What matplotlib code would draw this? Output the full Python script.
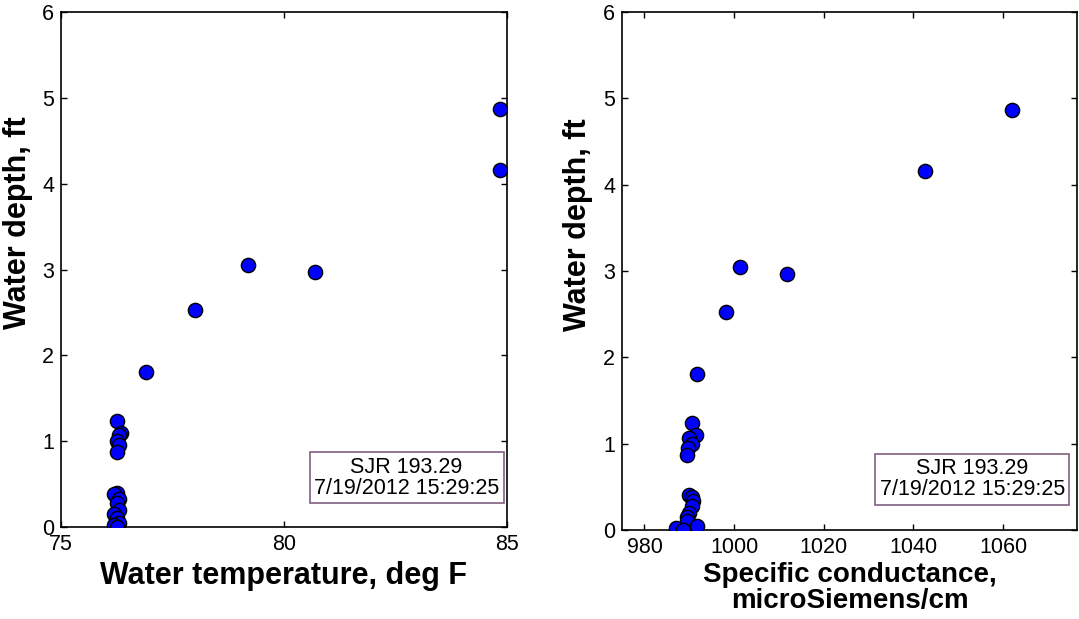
import numpy as np
import matplotlib
matplotlib.use("Agg")
import matplotlib.pyplot as plt

plt.rcParams["font.family"] = ["Liberation Sans", "DejaVu Sans"]

# Profile SJR 193.29, 7/19/2012 15:29:25
depth = [4.87, 4.16, 3.05, 2.97, 2.53, 1.81,
         1.24, 1.10, 1.07, 1.00, 0.95, 0.87,
         0.40, 0.38, 0.33, 0.28, 0.20, 0.15, 0.10, 0.05, 0.02, 0.00]
temp_f = [84.85, 84.85, 79.2, 80.7, 78.0, 76.9,
          76.25, 76.35, 76.30, 76.25, 76.30, 76.25,
          76.25, 76.20, 76.30, 76.25, 76.30, 76.20, 76.25, 76.30, 76.20, 76.25]
spcond = [1062.0, 1042.5, 1001.4, 1011.9, 998.1, 991.8,
          990.5, 991.4, 990.0, 990.5, 989.8, 989.6,
          990.0, 990.5, 990.8, 990.5, 990.0, 989.5, 989.5, 991.8, 987.1, 988.5]

box_text = "SJR 193.29\n7/19/2012 15:29:25"

fig = plt.figure(figsize=(10.79, 6.19), dpi=100)
ax1 = fig.add_axes([0.0565, 0.1486, 0.4133, 0.832])
ax2 = fig.add_axes([0.5765, 0.1438, 0.4217, 0.8368])

def style_axes(ax):
    ax.tick_params(direction="in", length=4, width=1, labelsize=15.5,
                   top=True, right=True, pad=5)
    for s in ax.spines.values():
        s.set_linewidth(1.2)
    ax.set_ylim(0, 6)
    ax.set_yticks(range(0, 7))
    ax.set_ylabel("Water depth, ft", fontsize=22, fontweight="bold")

# temperature panel
ax1.scatter(temp_f, depth, s=105, c="#0000ff", edgecolors="black", linewidths=1, zorder=3)
ax1.set_xlim(75, 85)
ax1.set_xticks([75, 80, 85])
ax1.set_xlabel("Water temperature, deg F", fontsize=22, fontweight="bold", labelpad=4)
style_axes(ax1)
ax1.yaxis.set_label_coords(-0.063, 0.59)
ax1.text(0.775, 0.096, box_text, transform=ax1.transAxes, ha="center", va="center",
         fontsize=15.5, linespacing=1.0,
         bbox=dict(boxstyle="square,pad=0.2", fc="white", ec="#806080", lw=1.2))

# conductance panel
ax2.scatter(spcond, depth, s=105, c="#0000ff", edgecolors="black", linewidths=1, zorder=3)
ax2.set_xlim(975, 1076.5)
ax2.set_xticks([980, 1000, 1020, 1040, 1060])
ax2.set_xlabel("Specific conductance,\nmicroSiemens/cm", fontsize=20, fontweight="bold",
               labelpad=3, linespacing=1.0)
style_axes(ax2)
ax2.yaxis.set_label_coords(-0.064, 0.59)
ax2.text(0.770, 0.098, box_text, transform=ax2.transAxes, ha="center", va="center",
         fontsize=15.5, linespacing=1.0,
         bbox=dict(boxstyle="square,pad=0.2", fc="white", ec="#806080", lw=1.2))

plt.savefig("out.png", dpi=100)
